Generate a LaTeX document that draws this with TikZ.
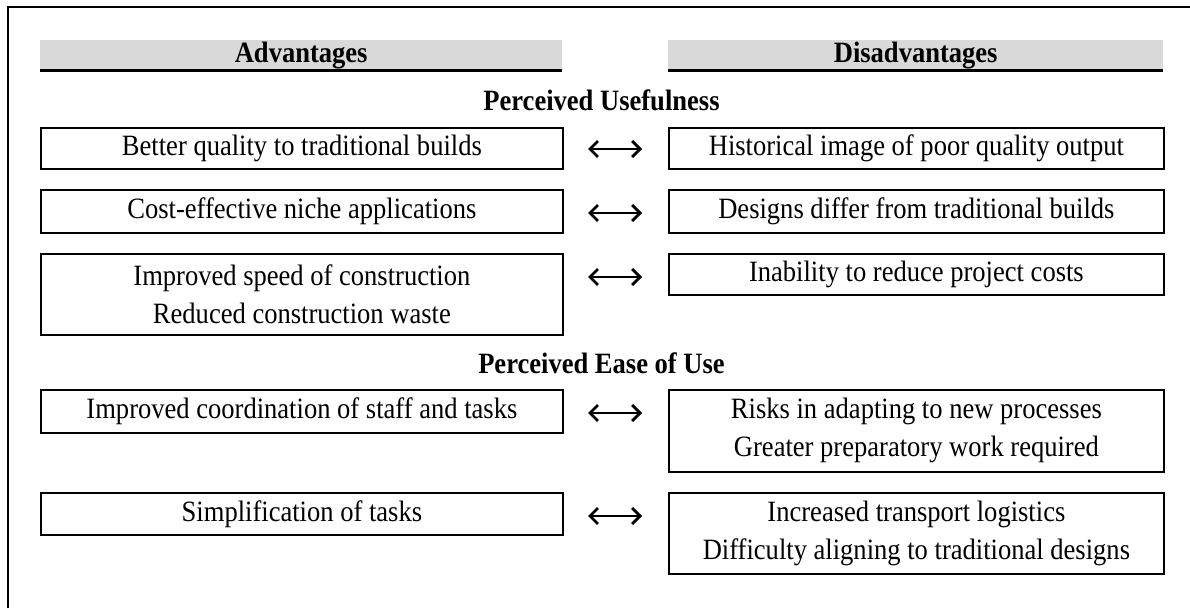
\documentclass[tikz,border=0pt]{standalone}
\usepackage{fontspec}
\setmainfont{Liberation Serif}[FakeStretch=0.9]
\usetikzlibrary{arrows.meta}
\begin{document}
\begin{tikzpicture}[x=1pt,y=-1pt,
  box/.style={draw, line width=1.8pt, inner sep=0pt, align=center, anchor=north west,
    font=\fontsize{29.5}{38}\selectfont},
  lbox/.style={box, minimum width=522},
  rbox/.style={box, minimum width=495},
  hdr/.style={fill=black!15, inner sep=0pt, anchor=north west, minimum height=30,
    font=\fontsize{29.5}{30}\selectfont\bfseries},
  hline/.style={line width=2.6pt},
  sec/.style={font=\fontsize{29.5}{30}\selectfont\bfseries, inner sep=0pt},
  dbl/.style={line width=2.8pt, {Straight Barb[length=8pt,width=16pt]}-{Straight Barb[length=8pt,width=16pt]}},
  frame/.style={line width=2pt}
]
\useasboundingbox (0,0) rectangle (1190,608);
\draw[frame] (7.5,608) -- (7.5,7) -- (1190,7);

% headers
\node[hdr, minimum width=522] (HA) at (40,40) {Advantages};
\node[hdr, minimum width=495] (HD) at (668,40) {Disadvantages};
\draw[hline] (HA.south west) -- (HA.south east);
\draw[hline] (HD.south west) -- (HD.south east);

% section titles
\node[sec] (PU) at (601.5,100) {Perceived Usefulness};
\node[sec] (PE) at (601.5,363) {Perceived Ease of Use};

% rows
\node[lbox, minimum height=41] (L1) at (40,127) {Better quality to traditional builds};
\node[rbox, minimum height=41] (R1) at (668,127) {Historical image of poor quality output};
\node[lbox, minimum height=43] (L2) at (40,189) {Cost-effective niche applications};
\node[rbox, minimum height=43] (R2) at (668,189) {Designs differ from traditional builds};
\node[lbox, minimum height=81] (L3) at (40,253) {Improved speed of construction\\Reduced construction waste};
\node[rbox, minimum height=41] (R3) at (668,253) {Inability to reduce project costs};
\node[lbox, minimum height=43] (L4) at (40,389) {Improved coordination of staff and tasks};
\node[rbox, minimum height=82] (R4) at (668,389) {Risks in adapting to new processes\\Greater preparatory work required};
\node[lbox, minimum height=42] (L5) at (40,492) {Simplification of tasks};
\node[rbox, minimum height=81] (R5) at (668,492) {Increased transport logistics\\Difficulty aligning to traditional designs};

% arrows
\coordinate (a1s) at (588,149); \coordinate (a1e) at (642,149);
\coordinate (a2s) at (588,213); \coordinate (a2e) at (642,213);
\coordinate (a3s) at (588,277); \coordinate (a3e) at (642,277);
\coordinate (a4s) at (588,413); \coordinate (a4e) at (642,413);
\coordinate (a5s) at (588,516); \coordinate (a5e) at (642,516);
\foreach \i in {1,...,5} {\draw[dbl] (a\i s) -- (a\i e);}
\end{tikzpicture}
\end{document}
